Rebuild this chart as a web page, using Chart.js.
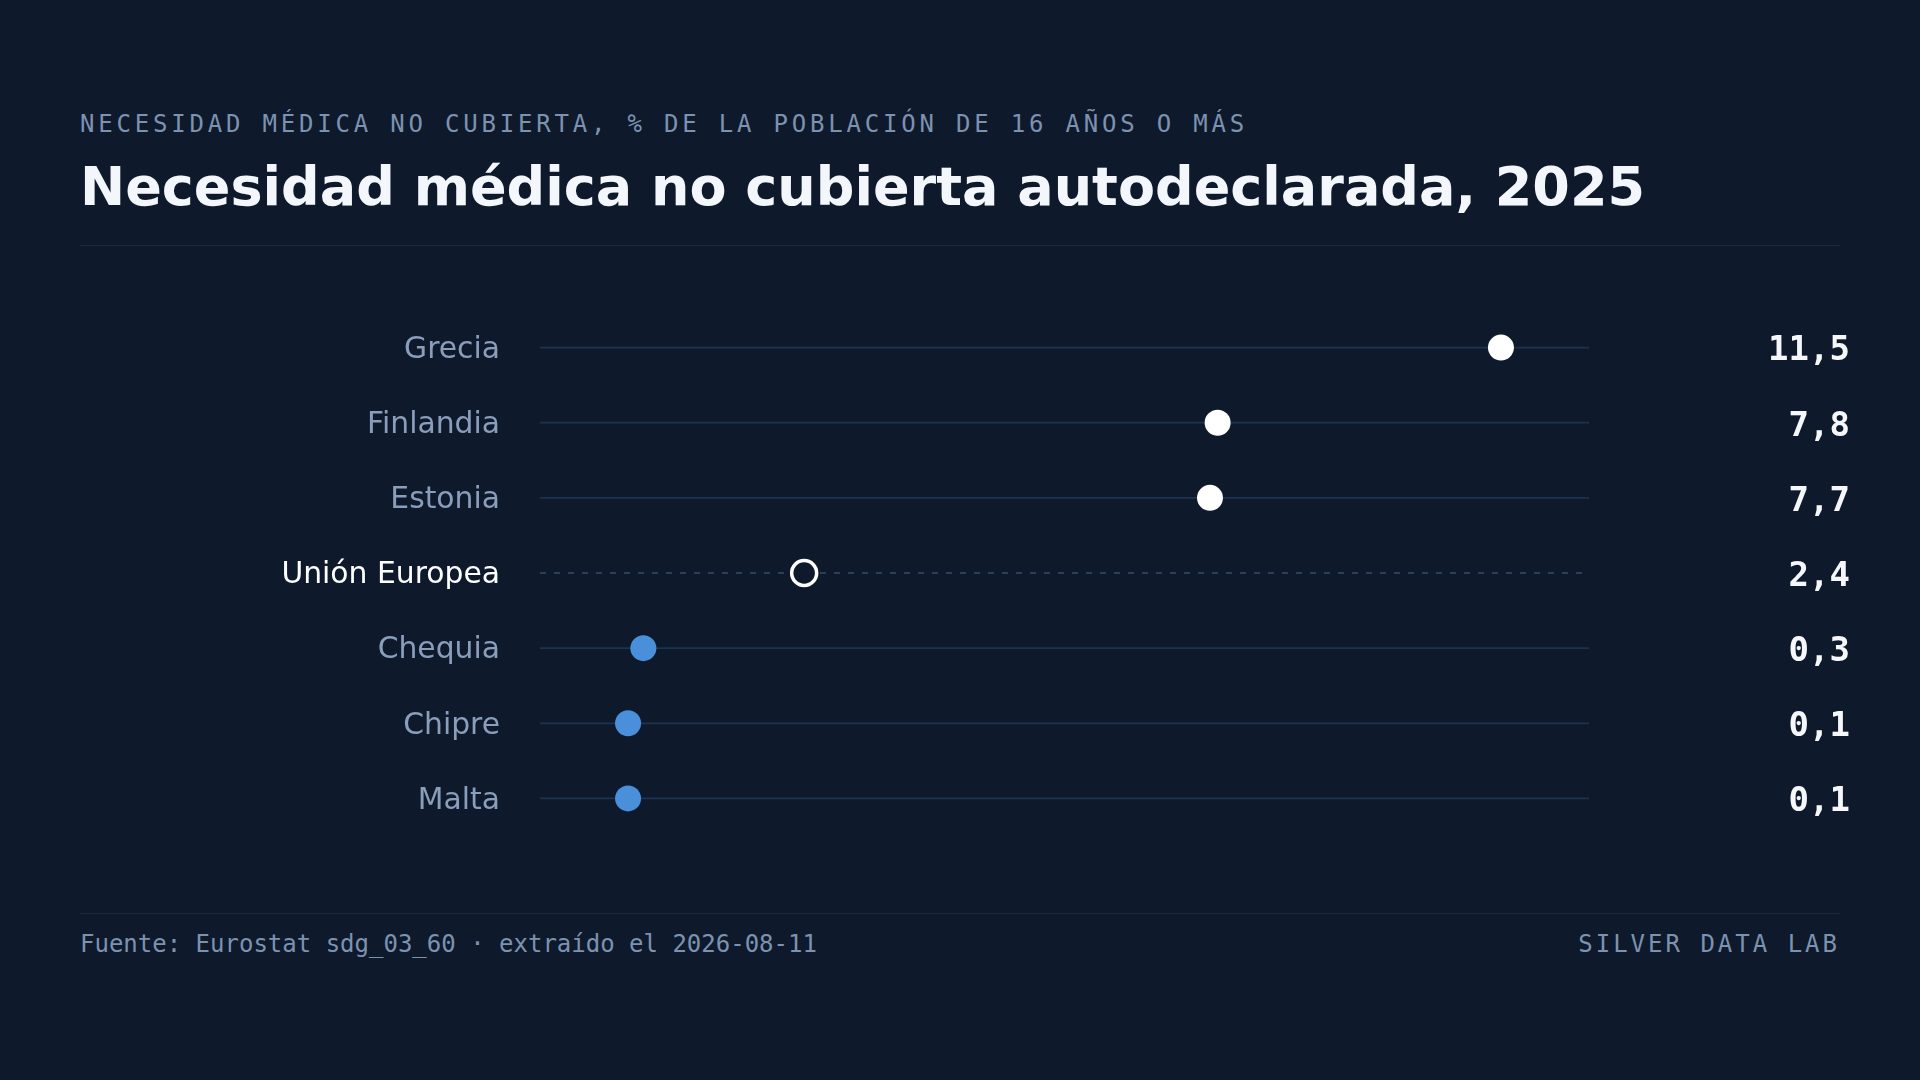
<!DOCTYPE html>
<html lang="es">
<head>
<meta charset="utf-8">
<title>Necesidad médica no cubierta autodeclarada, 2025</title>
<script src="https://cdn.jsdelivr.net/npm/chart.js@4/dist/chart.umd.min.js"></script>
<style>
    html, body { margin: 0; padding: 0; }
    body {
        width: 1920px;
        height: 1080px;
        background: #0e1a2b;
        position: relative;
        overflow: hidden;
        font-family: 'DejaVu Sans', sans-serif;
    }
    .kicker {
        position: absolute; left: 80px; top: 112px;
        font: 24px/24px 'DejaVu Sans Mono', monospace;
        letter-spacing: 3.8px;
        color: #7d92b0;
        white-space: nowrap;
    }
    .title {
        position: absolute; left: 80px; top: 160px;
        font: bold 54px/54px 'DejaVu Sans', sans-serif;
        color: #f3f6fa;
        white-space: nowrap;
    }
    .rule {
        position: absolute; left: 80px; width: 1760px; height: 1px;
        background: #1b2a3f;
    }
    .source {
        position: absolute; left: 80px; top: 932px;
        font: 24px/24px 'DejaVu Sans Mono', monospace;
        color: #7d92b0;
        white-space: nowrap;
    }
    .brand {
        position: absolute; right: 80px; top: 932px;
        font: 24px/24px 'DejaVu Sans Mono', monospace;
        letter-spacing: 3px;
        color: #7d92b0;
        white-space: nowrap;
    }
    #chart-box {
        position: absolute; left: 0; top: 309.5px; width: 1920px; height: 526px;
    }
</style>
</head>
<body>
<div class="kicker">NECESIDAD MÉDICA NO CUBIERTA, % DE LA POBLACIÓN DE 16 AÑOS O MÁS</div>
<div class="title">Necesidad médica no cubierta autodeclarada, 2025</div>
<div class="rule" style="top: 245px;"></div>

<div id="chart-box"><canvas id="chart"></canvas></div>

<div class="rule" style="top: 913px;"></div>
<div class="source">Fuente: Eurostat sdg_03_60 · extraído el 2026-08-11</div>
<div class="brand">SILVER DATA LAB</div>

<script>
"use strict";

// data, top to bottom
const countries = ['Grecia', 'Finlandia', 'Estonia', 'Unión Europea', 'Chequia', 'Chipre', 'Malta'];
const values = [11.5, 7.8, 7.7, 2.4, 0.3, 0.1, 0.1];
const valueLabels = ['11,5', '7,8', '7,7', '2,4', '0,3', '0,1', '0,1'];
const reference = 'Unión Europea';

const BG = '#0e1a2b';
const TRACK = '#1d3250';
const MUTED = '#8a9dba';
const BLUE = '#4a8fd9';
const WHITE = '#ffffff';

const refValue = values[countries.indexOf(reference)];
const xMax = Math.max(...values) * 1.1;
const xMin = Math.min(...values) - Math.max(...values) * 0.1;

/* one faint track per row, dashed for the reference row */
const trackSets = countries.map(c => ({
    type: 'line',
    data: [{ x: xMin, y: c }, { x: xMax, y: c }],
    borderColor: c === reference ? '#2a3f5c' : TRACK,
    borderWidth: c === reference ? 2 : 1.8,
    borderDash: c === reference ? [6, 8] : [],
    pointRadius: 0,
    yAxisID: 'y',
    order: 2
}));

/* colour rule: above the EU white, the EU itself hollow, below it blue. */
const dotFill = countries.map((c, i) => c === reference ? BG : (values[i] > refValue ? WHITE : BLUE));
const dotBorder = countries.map((c, i) => c === reference ? WHITE : (values[i] > refValue ? WHITE : BLUE));
const dotBorderWidth = countries.map(c => c === reference ? 3.5 : 0);
const dotRadius = countries.map(c => c === reference ? 12.5 : 13);

const dots = {
    type: 'line',
    data: countries.map((c, i) => ({ x: values[i], y: c })),
    showLine: false,
    pointBackgroundColor: dotFill,
    pointBorderColor: dotBorder,
    pointBorderWidth: dotBorderWidth,
    pointRadius: dotRadius,
    pointHoverRadius: dotRadius,
    yAxisID: 'y',
    order: 0
};

/* fixed axis widths, and no extra vertical padding from the tick labels */
const fixWidth = (w) => (scale) => {
    scale.width = w;
    scale.paddingTop = 0;
    scale.paddingBottom = 0;
};

const ctx = document.getElementById('chart').getContext('2d');
new Chart(ctx, {
    type: 'line',
    data: { datasets: [dots, ...trackSets] },
    options: {
        responsive: true,
        maintainAspectRatio: false,
        animation: false,
        events: [],
        layout: { padding: { left: 0, right: 70, top: 0, bottom: 0 }, autoPadding: false },
        plugins: {
            legend: { display: false },
            tooltip: { enabled: false }
        },
        scales: {
            x: {
                type: 'linear',
                min: xMin,
                max: xMax,
                display: false
            },
            y: {
                type: 'category',
                labels: countries,
                position: 'left',
                offset: true,
                grid: { display: false, drawTicks: false },
                border: { display: false },
                ticks: {
                    padding: 40,
                    labelOffset: 2.5,
                    autoSkip: false,
                    color: (c) => countries[c.index] === reference ? WHITE : MUTED,
                    font: { family: 'DejaVu Sans', size: 29.8 }
                },
                afterFit: fixWidth(540)
            },
            yValues: {
                type: 'category',
                labels: valueLabels,
                position: 'right',
                offset: true,
                grid: { display: false, drawTicks: false },
                border: { display: false },
                ticks: {
                    crossAlign: 'far',
                    padding: 0,
                    labelOffset: 4,
                    autoSkip: false,
                    color: '#f5f7fb',
                    font: { family: 'DejaVu Sans Mono', size: 34, weight: 'bold' }
                },
                afterFit: fixWidth(261)
            }
        }
    }
});
</script>
</body>
</html>
